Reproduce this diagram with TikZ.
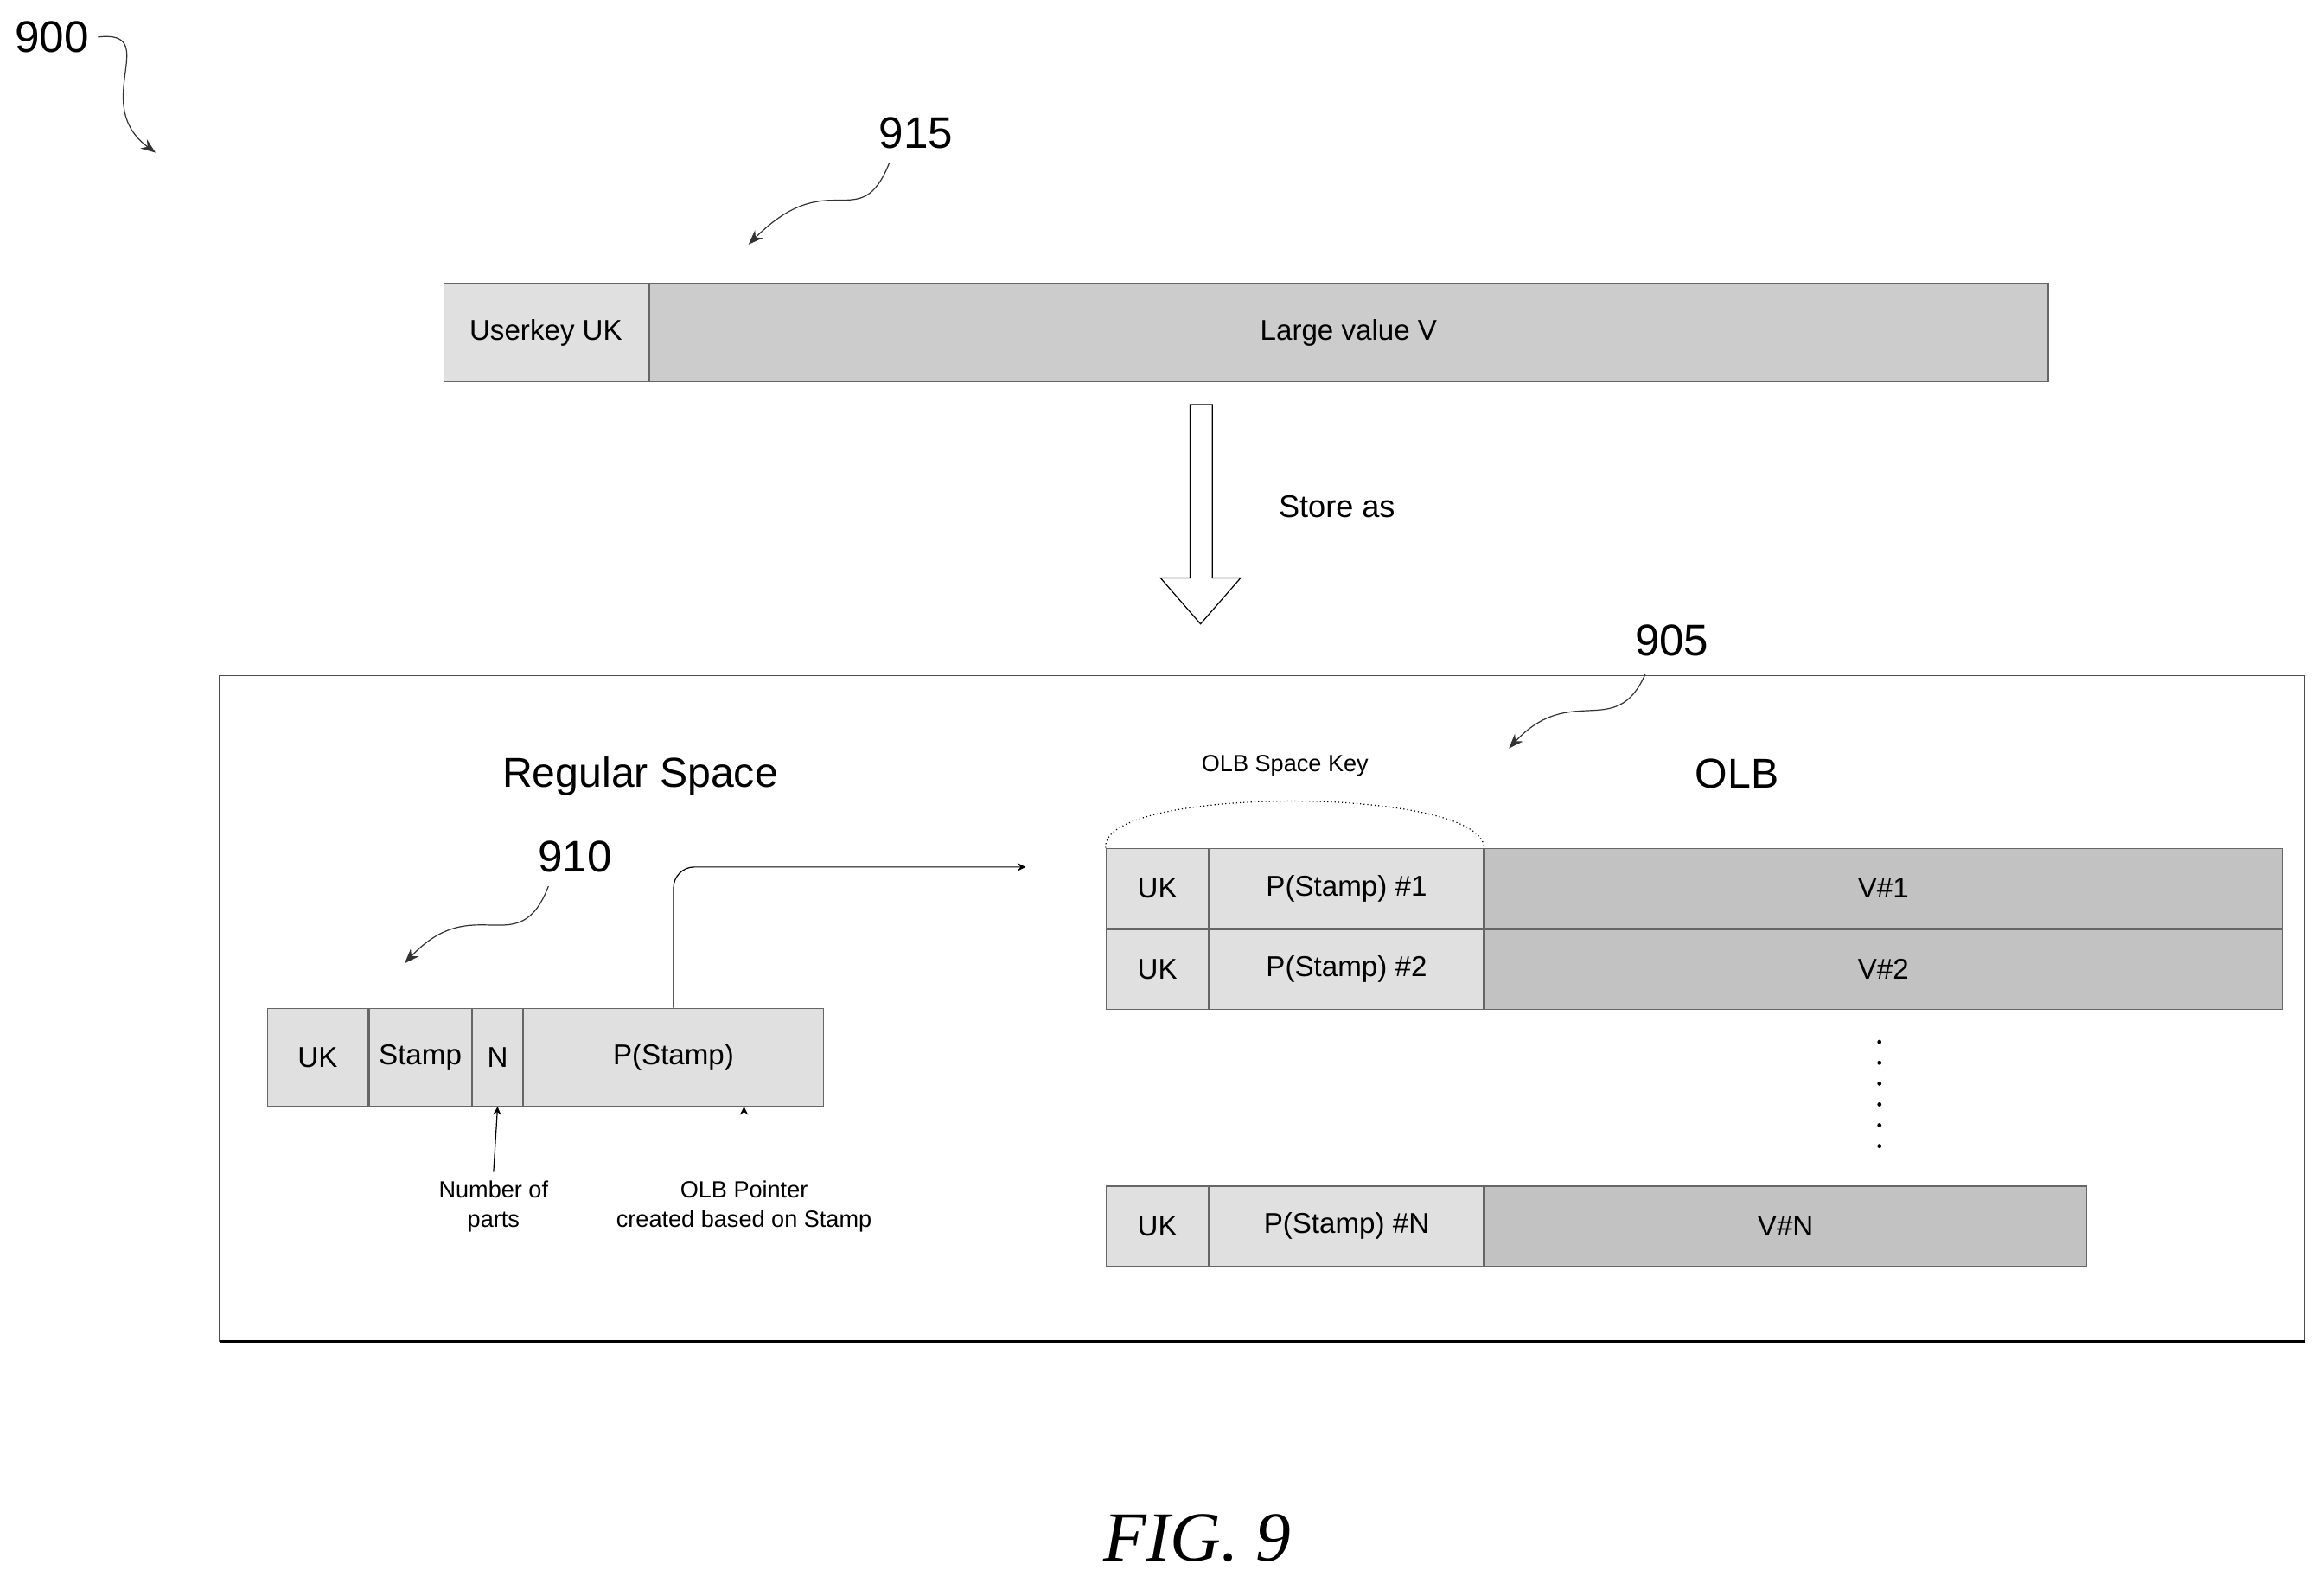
\documentclass[tikz,border=0pt]{standalone}
\usepackage{fontspec}
\setmainfont{Liberation Sans}
\newfontfamily\figfont{Liberation Serif}
\usetikzlibrary{positioning,arrows.meta}

\begin{document}
\begin{tikzpicture}[
    x=0.02cm, y=-0.02cm,
    cell/.style={draw=black!60, fill=black!12, minimum height=1.32cm, inner sep=0pt, font=\fontsize{11}{13}\selectfont},
    row/.style={draw=black!60, fill=black!12, minimum height=1.08cm, inner sep=0pt, font=\fontsize{11}{13}\selectfont},
    big/.style={row, fill=black!24},
    refnum/.style={font=\fontsize{17}{19}\selectfont},
    title/.style={font=\fontsize{16}{18}\selectfont},
    small/.style={font=\fontsize{9}{11}\selectfont, align=center},
    squig/.style={-{Stealth[length=2mm]}, black!80, thin},
    arrow/.style={->, >=stealth},
]
    \useasboundingbox (0,0) rectangle (1568,1068);

    % Reference numbers
    \node[refnum] (n900) at (35,25) {900};
    \coordinate (t900) at (105,103);
    \draw[squig] (n900.east) .. controls (110,20) and (60,70) .. (t900);
    \node[refnum] (n915) at (618,90) {915};
    \coordinate (t915) at (505,165);
    \draw[squig] (600,110) .. controls (580,160) and (560,110) .. (t915);

    % Top record
    \node[cell, minimum width=2.76cm, anchor=north west] (uk) at (299,191) {Userkey UK};
    \node[cell, fill=black!20, minimum width=18.88cm, right=0pt of uk] (val) {Large value V};

    % Store as arrow
    \coordinate (sa) at (810,273);
    \draw[thin] (803,273) -- (803,390) -- (783,390) -- (810,421) -- (837,390) -- (818,390) -- (818,273) -- cycle;
    \node[font=\fontsize{12}{14}\selectfont] (store) at (902,342) {Store as};

    % Frame
    \draw[black!70] (148,456) rectangle (1555,905);
    \draw[line width=1pt] (148,905) -- (1555,905);

    \node[refnum] (n905) at (1128,432) {905};
    \coordinate (t905) at (1018,505);
    \draw[squig] (1110,455) .. controls (1090,500) and (1060,460) .. (t905);
    \node[title] (reg) at (432,524) {Regular Space};
    \node[title] (olb) at (1172,522) {OLB};
    \node[refnum] (n910) at (388,578) {910};
    \coordinate (t910) at (273,650);
    \draw[squig] (370,598) .. controls (350,650) and (320,600) .. (t910);

    % Regular space record
    \node[cell, minimum width=1.36cm, anchor=north west] (ruk) at (180,680) {UK};
    \node[cell, minimum width=1.38cm, right=0pt of ruk] (stamp) {Stamp};
    \node[cell, minimum width=0.68cm, right=0pt of stamp] (nn) {N};
    \node[cell, minimum width=4.04cm, right=0pt of nn] (ps) {P(Stamp)};

    \coordinate (olbin) at (692,585);
    \draw[arrow, rounded corners=8pt] (ps.north) |- (olbin);

    \node[small] (parts) at (333,814) {Number of\\parts};
    \node[small] (ptr) at (502,814) {OLB Pointer\\created based on Stamp};
    \draw[arrow] (parts.north) -- (nn.south);
    \draw[arrow] (ptr.north) -- (ps.south -| ptr.north);

    % OLB rows
    \node[row, minimum width=1.38cm, anchor=north west] (uk1) at (746,572) {UK};
    \node[row, minimum width=3.7cm, right=0pt of uk1] (p1) {P(Stamp) \#1};
    \node[big, minimum width=10.76cm, right=0pt of p1] (v1) {V\#1};
    \node[row, minimum width=1.38cm, below=0pt of uk1] (uk2) {UK};
    \node[row, minimum width=3.7cm, right=0pt of uk2] (p2) {P(Stamp) \#2};
    \node[big, minimum width=10.76cm, right=0pt of p2] (v2) {V\#2};
    \node[row, minimum width=1.38cm, anchor=north west] (ukn) at (746,800) {UK};
    \node[row, minimum width=3.7cm, right=0pt of ukn] (pn) {P(Stamp) \#N};
    \node[big, minimum width=8.12cm, right=0pt of pn] (vn) {V\#N};

    \draw[line width=1.6pt, dash pattern=on 0pt off 8pt, line cap=round] (1268,703) -- (1268,787);

    % OLB space key
    \draw[densely dotted] (uk1.north west) .. controls (742,530) and (1000,530) .. (p1.north east);
    \node[small] (key) at (867,517) {OLB Space Key};

    \node[font=\figfont\itshape\fontsize{27}{30}\selectfont] (fig) at (808,1038) {FIG. 9};
\end{tikzpicture}
\end{document}
